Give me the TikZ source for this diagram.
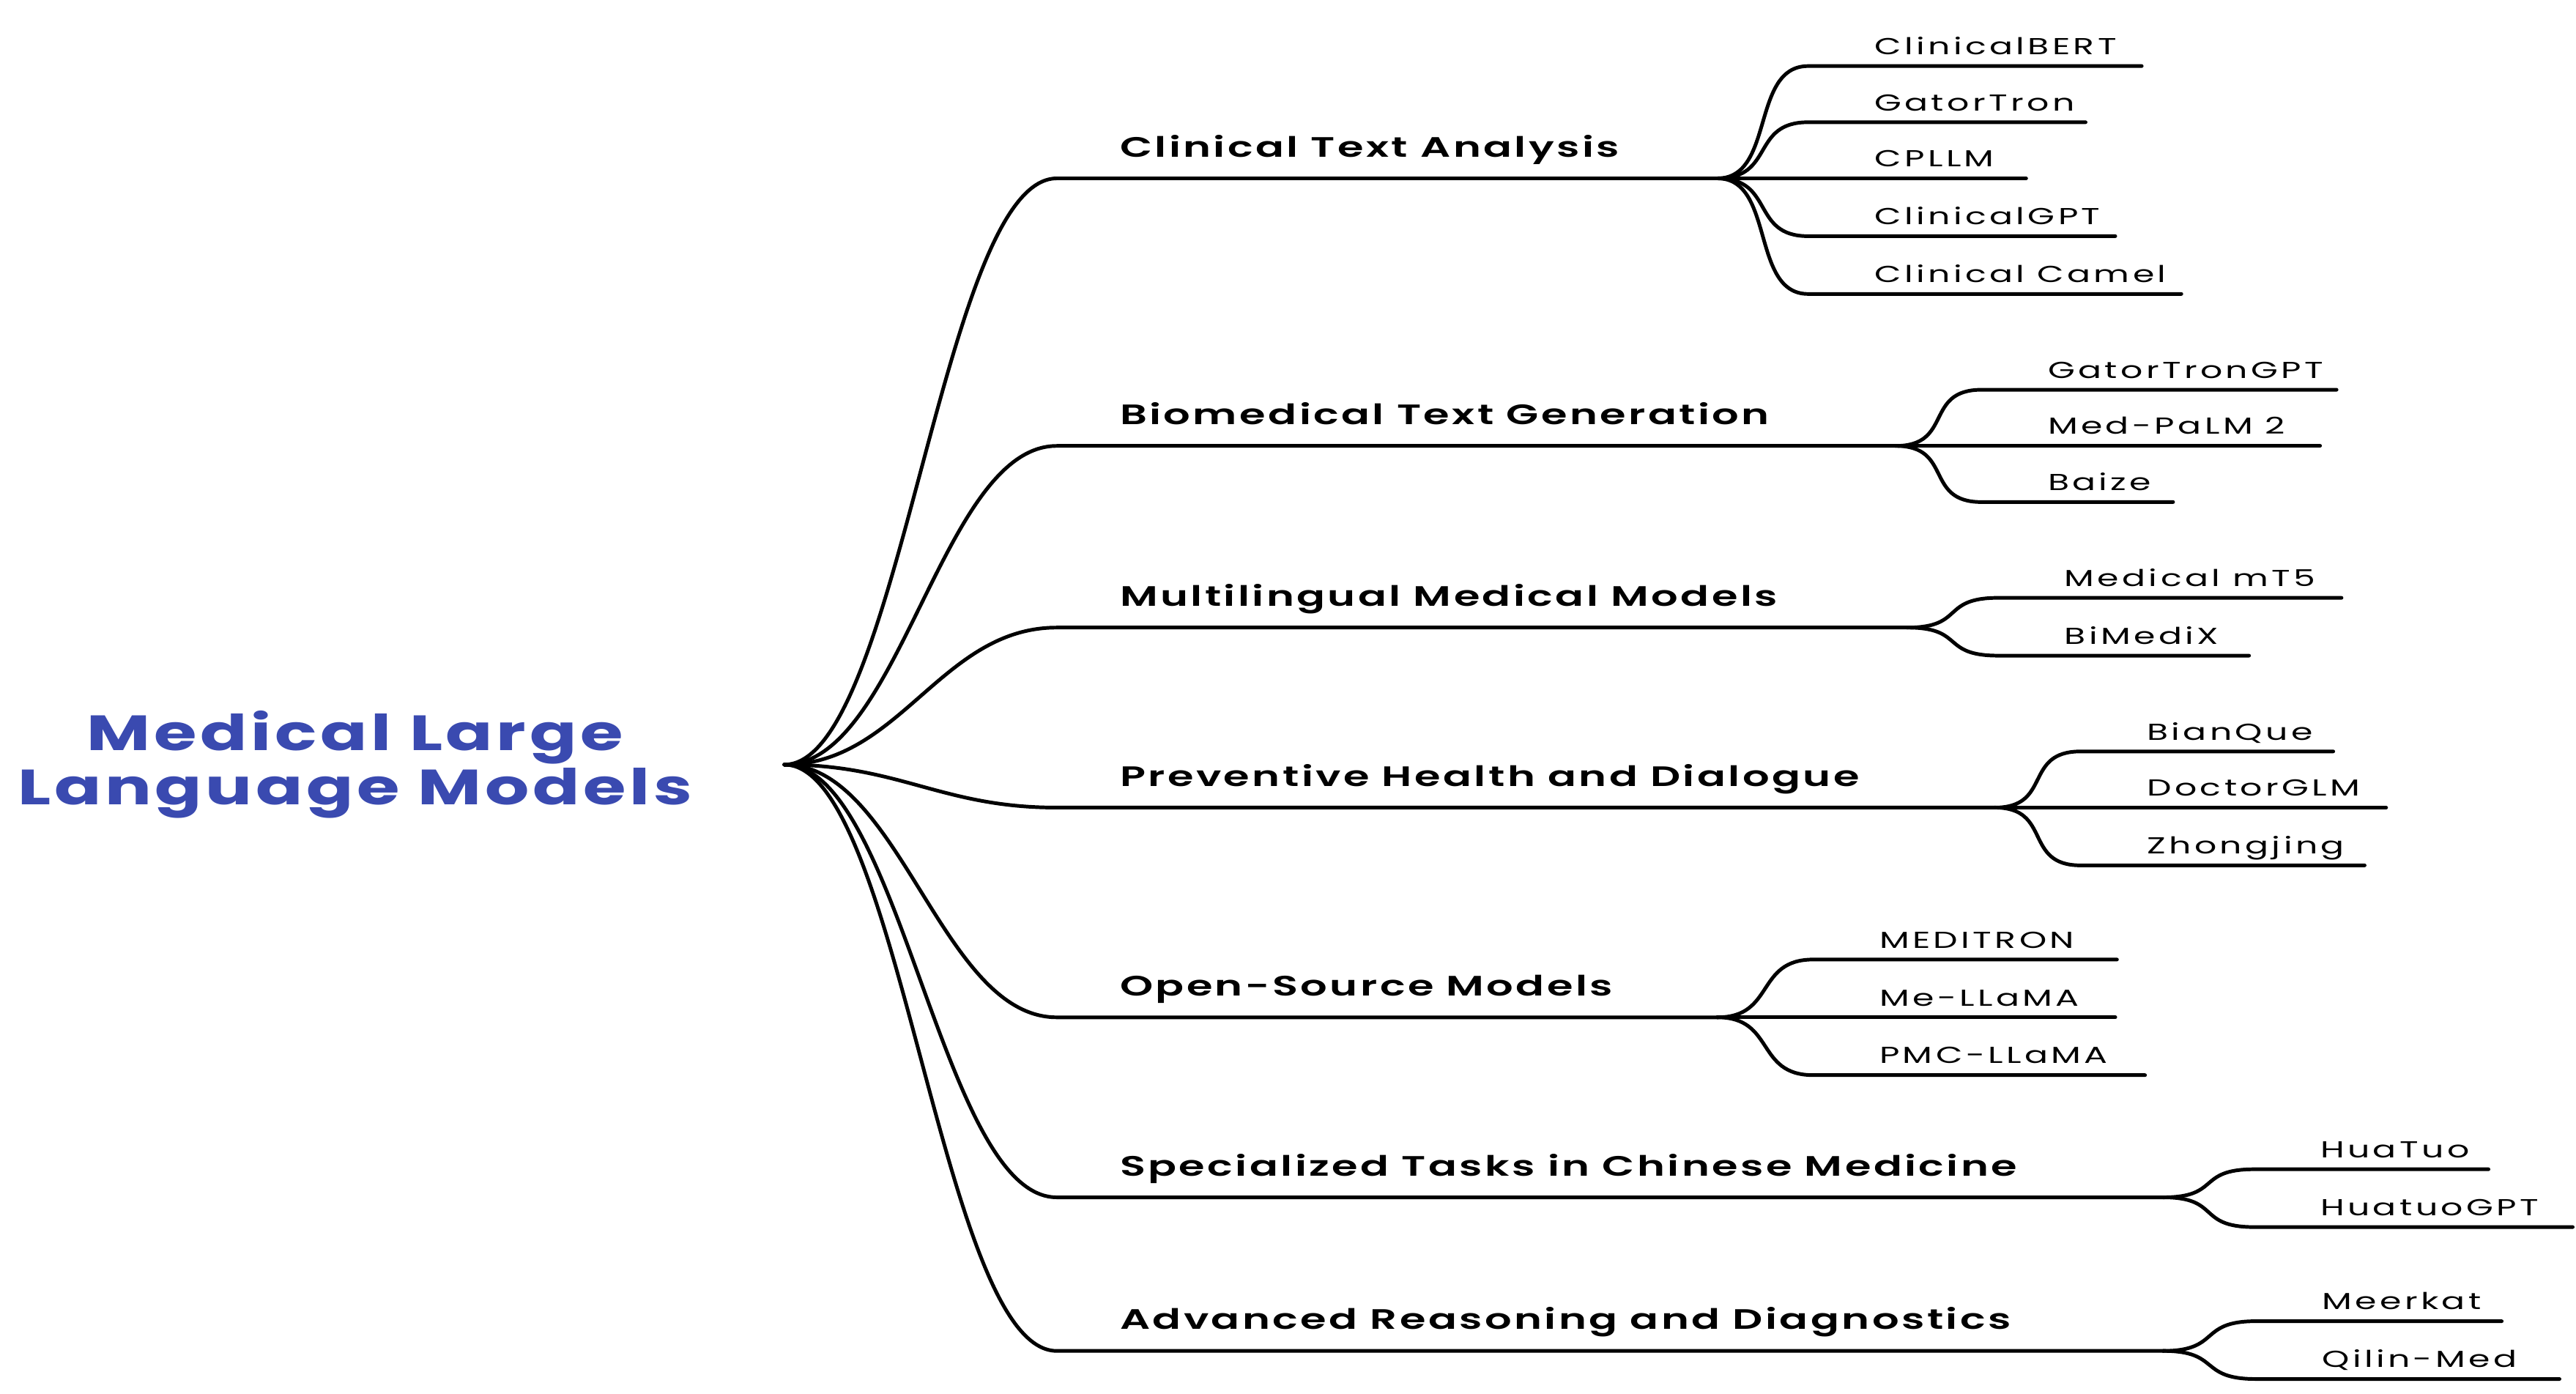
\documentclass[tikz,border=0pt]{standalone}
\usepackage{fontspec}
\setmainfont{Poppins}
\newfontfamily\leaffont{Poppins}[FakeStretch=1.5,LetterSpace=14]
\newfontfamily\catfont{Poppins SemiBold}[FakeStretch=1.5,LetterSpace=9]
\newfontfamily\titlefont{Poppins}[FakeStretch=1.4,LetterSpace=7,BoldFont={* Bold}]
\begin{document}
\begin{tikzpicture}[x=1pt,y=-1pt,
  br/.style={line width=2.2pt,line cap=round},
  cat/.style={anchor=base west,inner sep=0pt,font=\catfont\fontsize{17}{20}\selectfont},
  lf/.style={anchor=base west,inner sep=0pt,font=\leaffont\fontsize{14}{17}\selectfont},
  title/.style={align=center,inner sep=0pt,text=titleblue,font=\titlefont\fontsize{30}{33}\selectfont\bfseries}]
\definecolor{titleblue}{HTML}{3A4AB0}
\useasboundingbox (0,0) rectangle (1560,844);
\node[title] (root) at (215,463) {Medical Large\\Language Models};
\coordinate (r) at (475,463);
\newcommand\cat[4]{%
  \coordinate (#1s) at (640,#2);
  \coordinate (#1e) at (#3,#2);
  \node[cat] (#1) at (678,#2-13) {#4};
  \draw[br] (r) .. controls +(70,0) and +(-70,0) .. (#1s) -- (#1e);}
\newcommand\leaf[6]{%
  \coordinate (#2s) at (#4,#3);
  \coordinate (#2e) at (#5,#3);
  \node[lf] (#2) at (#4+40,#3-7) {#6};
  \draw[br] (#1e) .. controls +(35,0) and +(-35,0) .. (#2s) -- (#2e);}
\cat{c1}{108}{1040}{Clinical Text Analysis}
\leaf{c1}{a1}{40}{1095}{1297}{ClinicalBERT}
\leaf{c1}{a2}{74}{1095}{1263}{GatorTron}
\leaf{c1}{a3}{108}{1095}{1227}{CPLLM}
\leaf{c1}{a4}{143}{1095}{1281}{ClinicalGPT}
\leaf{c1}{a5}{178}{1095}{1321}{Clinical Camel}
\cat{c2}{270}{1148}{Biomedical Text Generation}
\leaf{c2}{b1}{236}{1200}{1415}{GatorTronGPT}
\leaf{c2}{b2}{270}{1200}{1405}{Med-PaLM 2}
\leaf{c2}{b3}{304}{1200}{1316}{Baize}
\cat{c3}{380}{1155}{Multilingual Medical Models}
\leaf{c3}{d1}{362}{1210}{1418}{Medical mT5}
\leaf{c3}{d2}{397}{1210}{1362}{BiMediX}
\cat{c4}{489}{1208}{Preventive Health and Dialogue}
\leaf{c4}{e1}{455}{1260}{1413}{BianQue}
\leaf{c4}{e2}{489}{1260}{1445}{DoctorGLM}
\leaf{c4}{e3}{524}{1260}{1432}{Zhongjing}
\cat{c5}{616}{1040}{Open-Source Models}
\leaf{c5}{f1}{581}{1098}{1282}{MEDITRON}
\leaf{c5}{f2}{616}{1098}{1281}{Me-LLaMA}
\leaf{c5}{f3}{651}{1098}{1299}{PMC-LLaMA}
\cat{c6}{725}{1310}{Specialized Tasks in Chinese Medicine}
\leaf{c6}{g1}{708}{1365}{1507}{HuaTuo}
\leaf{c6}{g2}{743}{1365}{1558}{HuatuoGPT}
\cat{c7}{818}{1310}{Advanced Reasoning and Diagnostics}
\leaf{c7}{h1}{800}{1366}{1515}{Meerkat}
\leaf{c7}{h2}{835}{1366}{1550}{Qilin-Med}
\end{tikzpicture}
\end{document}
